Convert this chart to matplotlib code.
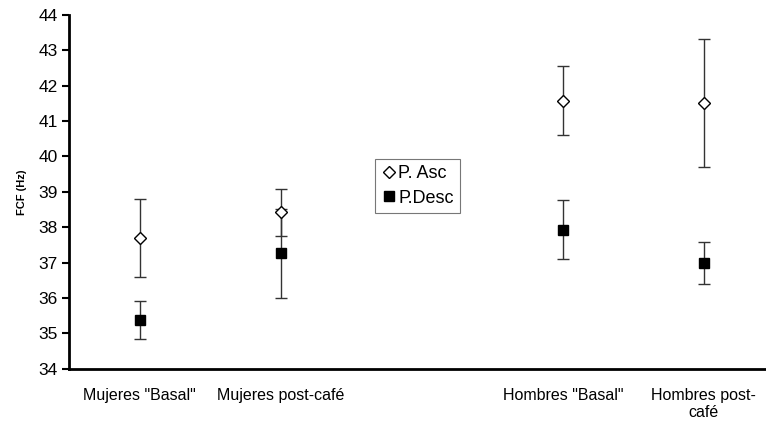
import numpy as np
import matplotlib.pyplot as plt
from matplotlib.lines import Line2D

plt.rcParams['font.family'] = ['Liberation Sans', 'DejaVu Sans']

# categories (blank slot in the middle, as in the original)
categories = ['Mujeres "Basal"', 'Mujeres post-café', '', 'Hombres "Basal"', 'Hombres post-\ncafé']

# P. Asc means and error
asc_x = [0, 1, 3, 4]
asc_mean = [37.70, 38.42, 41.58, 41.51]
asc_err = [1.10, 0.66, 0.98, 1.82]

# P.Desc means and error
desc_x = [0, 1, 3, 4]
desc_mean = [35.38, 37.27, 37.93, 36.99]
desc_err = [0.54, 1.26, 0.83, 0.60]

fig = plt.figure(figsize=(7.66, 4.25), dpi=100)
ax = fig.add_axes([0.0901, 0.132, 0.9099, 0.833])

ax.errorbar(asc_x, asc_mean, yerr=asc_err, fmt='D', color='black', mfc='white',
            mec='black', ms=6.5, mew=1.0, ecolor='#333333', elinewidth=1, capsize=4,
            zorder=3)
ax.errorbar(desc_x, desc_mean, yerr=desc_err, fmt='s', color='black', mfc='black',
            mec='black', ms=7.5, ecolor='#333333', elinewidth=1, capsize=4,
            zorder=2)

ax.set_ylim(34, 44)
ax.set_yticks(np.arange(34, 45, 1))
ax.set_xlim(-0.5, 4.44)
ax.set_xticks(range(len(categories)))
ax.set_xticklabels(categories, fontsize=11.5, linespacing=1.1)
ax.tick_params(axis='x', length=0, pad=14)
ax.tick_params(axis='y', direction='out', length=5, width=1.5, labelsize=12.5, pad=3)

ax.spines['top'].set_visible(False)
ax.spines['right'].set_visible(False)
ax.spines['left'].set_linewidth(2)
ax.spines['bottom'].set_linewidth(2)

ax.set_ylabel('FCF (Hz)', fontsize=8, fontweight='bold', labelpad=8)

handles = [Line2D([], [], ls='none', marker='D', mfc='white', mec='black', ms=6, mew=1.0),
           Line2D([], [], ls='none', marker='s', mfc='black', mec='black', ms=7.5)]
leg = ax.legend(handles, ['P. Asc', 'P.Desc'], loc='upper left',
                bbox_to_anchor=(0.439, 0.593), handletextpad=0.15,
                handlelength=0.8, fontsize=13, frameon=True, fancybox=False,
                borderpad=0.35, labelspacing=0.4, borderaxespad=0)
leg.get_frame().set_edgecolor('#555555')
leg.get_frame().set_linewidth(0.8)

fig.savefig('out.png', dpi=100)
